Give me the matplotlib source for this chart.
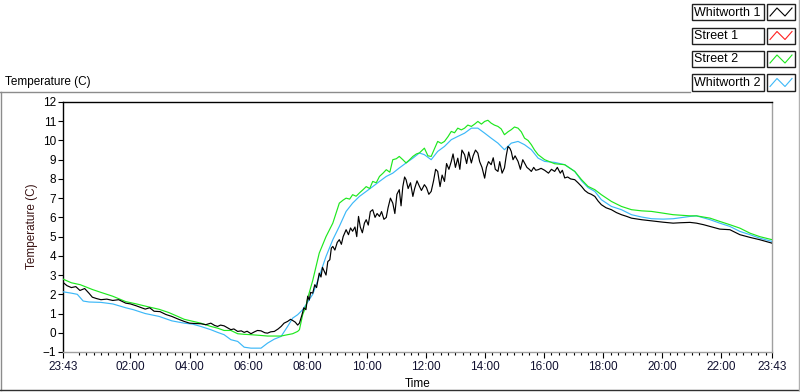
import numpy as np
import matplotlib
matplotlib.use("Agg")
import matplotlib.pyplot as plt
from matplotlib.lines import Line2D
from matplotlib.patches import Rectangle
from matplotlib.ticker import FixedLocator, FixedFormatter


# time is in hours after midnight, the log runs 23:43 -> 23:43
t_start = -17 / 60.
t_end = 24 - 17 / 60.

series_names = ["Whitworth 1", "Street 1", "Street 2", "Whitworth 2"]
series_colors = ["#000000", "#ff2020", "#1ee81e", "#3cb8f8"]

time_w1 = [-0.283, -0.15, 0.0, 0.15, 0.29, 0.45, 0.6, 0.71, 0.85, 1.0, 1.2, 1.4, 1.6, 1.84, 2.0,
           2.2, 2.5, 2.65, 2.8, 3.0, 3.2, 3.4, 3.6, 3.82, 4.0, 4.2, 4.38, 4.55, 4.72, 4.85, 4.95,
           5.05, 5.17, 5.3, 5.4, 5.5, 5.63, 5.75, 5.85, 5.95, 6.08, 6.2, 6.3, 6.42, 6.55, 6.64,
           6.75, 6.87, 7.0, 7.1, 7.2, 7.32, 7.42, 7.49, 7.58, 7.66, 7.72, 7.8, 7.87, 7.94, 8.0,
           8.05, 8.1, 8.17, 8.24, 8.3, 8.39, 8.45, 8.5, 8.56, 8.62, 8.68, 8.75, 8.8, 8.85, 8.92,
           9.0, 9.07, 9.14, 9.2, 9.3, 9.38, 9.45, 9.52, 9.6, 9.66, 9.72, 9.78, 9.85, 9.92, 9.98,
           10.05, 10.12, 10.2, 10.28, 10.35, 10.43, 10.5, 10.58, 10.66, 10.72, 10.8, 10.88, 10.95,
           11.02, 11.1, 11.16, 11.22, 11.28, 11.33, 11.4, 11.48, 11.56, 11.62, 11.7, 11.78, 11.85,
           11.95, 12.02, 12.1, 12.18, 12.26, 12.33, 12.4, 12.48, 12.55, 12.63, 12.7, 12.78, 12.86,
           12.92, 13.0, 13.08, 13.15, 13.22, 13.31, 13.38, 13.45, 13.54, 13.6, 13.68, 13.76, 13.82,
           13.9, 13.99, 14.05, 14.12, 14.21, 14.28, 14.35, 14.44, 14.5, 14.58, 14.66, 14.72, 14.78,
           14.84, 14.89, 14.95, 15.02, 15.12, 15.2, 15.28, 15.34, 15.42, 15.5, 15.57, 15.65, 15.72,
           15.8, 15.9, 16.02, 16.15, 16.25, 16.36, 16.45, 16.55, 16.62, 16.7, 16.8, 16.9, 17.04,
           17.15, 17.27, 17.38, 17.49, 17.6, 17.72, 17.83, 17.94, 18.1, 18.28, 18.45, 18.62, 18.8,
           18.96, 19.3, 19.64, 20.03, 20.37, 20.6, 20.94, 21.16, 21.4, 21.62, 21.95, 22.29, 22.63,
           22.97, 23.3, 23.717]
temp_w1 = [2.62, 2.45, 2.35, 2.4, 2.2, 2.3, 2.05, 1.85, 1.78, 1.72, 1.75, 1.68, 1.72, 1.54, 1.5,
           1.4, 1.23, 1.3, 1.12, 1.1, 0.95, 0.85, 0.72, 0.59, 0.5, 0.48, 0.47, 0.42, 0.5, 0.38, 0.33,
           0.4, 0.36, 0.25, 0.16, 0.2, 0.07, 0.1, 0.02, 0.08, -0.05, 0.05, 0.12, 0.1, 0.0, -0.02,
           0.05, 0.07, 0.2, 0.33, 0.5, 0.59, 0.7, 0.64, 0.55, 0.4, 0.5, 0.9, 1.3, 1.2, 1.9,
           1.7, 2.1, 2.06, 2.5, 2.35, 3.1, 2.9, 3.4, 3.2, 3.0, 3.7, 3.8, 4.4, 4.49, 4.3,
           4.7, 4.84, 4.6, 5.0, 5.36, 5.1, 5.45, 5.28, 5.5, 5.0, 6.05, 5.5, 5.2, 5.7, 5.88,
           5.6, 6.3, 6.4, 6.0, 6.2, 6.05, 6.3, 5.9, 6.0, 6.5, 7.0, 6.74, 6.2,
           7.2, 7.44, 6.6, 7.6, 8.1, 7.96, 7.5, 7.8, 7.09, 7.5, 7.9, 7.62, 7.4,
           7.7, 7.55, 7.2, 7.35, 7.9, 8.5, 8.39, 7.6, 8.2, 7.87, 8.8, 8.5, 8.91,
           9.3, 8.6, 9.08, 8.5, 9.5, 9.26, 8.8, 9.4, 8.83, 9.2, 9.5, 9.34, 8.9,
           8.6, 8.04, 8.6, 8.9, 8.74, 9.1, 8.5, 8.39, 8.9, 8.3, 8.57, 9.2, 9.69,
           9.6, 9.43, 9.0, 9.2, 8.91, 8.5, 9.0, 8.83, 8.6, 8.5, 8.39, 8.6, 8.45,
           8.48, 8.55, 8.45, 8.3, 8.5, 8.39, 8.6, 8.3, 8.45, 8.05, 8.1, 8.0, 7.96,
           7.8, 7.61, 7.4, 7.27, 7.2, 7.09, 6.85, 6.66, 6.5, 6.4, 6.25, 6.14, 6.05,
           5.96, 5.88, 5.82, 5.75, 5.7, 5.72, 5.74, 5.7, 5.62, 5.53, 5.39, 5.36, 5.1,
           4.96, 4.84, 4.66]

# Street 1 logged nothing on this day
time_s1 = []
temp_s1 = []

time_s2 = [-0.283, 0.0, 0.3, 0.71, 1.0, 1.4, 1.84, 2.2, 2.6, 2.97, 3.3, 3.6, 3.82, 4.1, 4.38,
           4.72, 4.95, 5.17, 5.4, 5.63, 5.85, 6.08, 6.42, 6.64, 7.1, 7.32, 7.49, 7.66, 7.72, 7.83,
           7.94, 8.0, 8.17, 8.39, 8.62, 8.85, 9.07, 9.2, 9.3, 9.42, 9.52, 9.64, 9.75, 9.88, 9.98,
           10.1, 10.2, 10.32, 10.43, 10.55, 10.66, 10.78, 10.88, 11.0, 11.1, 11.22, 11.33, 11.45,
           11.56, 11.68, 11.78, 11.95, 12.07, 12.18, 12.3, 12.4, 12.52, 12.63, 12.75, 12.86, 12.97,
           13.08, 13.2, 13.31, 13.42, 13.54, 13.65, 13.76, 13.88, 13.99, 14.1, 14.21, 14.32, 14.44,
           14.55, 14.66, 14.78, 14.89, 15.0, 15.12, 15.23, 15.34, 15.46, 15.57, 15.68, 15.8, 16.02,
           16.36, 16.7, 17.04, 17.27, 17.49, 17.72, 17.94, 18.28, 18.62, 18.96, 19.3, 19.64, 20.03,
           20.37, 20.94, 21.16, 21.62, 21.95, 22.29, 22.63, 22.97, 23.3, 23.717]
temp_s2 = [2.79, 2.6, 2.5, 2.25, 2.1, 1.9, 1.62, 1.5, 1.35, 1.22, 1.05, 0.85, 0.7, 0.6, 0.5,
           0.33, 0.24, 0.12, 0.12, -0.05, -0.08, -0.1, -0.14, -0.17, -0.17, -0.1, -0.05, 0.07, 0.16, 0.94,
           1.37, 1.8, 2.72, 4.14, 5.0, 5.7, 6.74, 6.9, 7.0, 6.95, 7.18, 7.1, 7.27, 7.45, 7.6,
           7.5, 7.87, 7.8, 8.13, 8.3, 8.48, 8.35, 9.0, 9.05, 9.17, 9.0, 8.83, 9.0,
           9.17, 9.3, 9.35, 9.6, 9.2, 9.17, 9.6, 9.95, 9.85, 9.95, 10.2, 10.47, 10.4,
           10.64, 10.55, 10.64, 10.8, 10.73, 10.85, 10.99, 10.85, 10.99, 11.05, 10.9, 10.8, 10.73,
           10.6, 10.3, 10.45, 10.56, 10.7, 10.64, 10.45, 10.12, 10.0, 9.78, 9.5, 9.26, 9.0,
           8.79, 8.74, 8.39, 7.96, 7.61, 7.44, 7.18, 6.83, 6.57, 6.4, 6.34, 6.31, 6.22,
           6.14, 6.08, 6.08, 5.96, 5.79, 5.62, 5.44, 5.18, 5.0, 4.84]

time_w2 = [-0.283, 0.0, 0.2, 0.4, 0.6, 1.0, 1.4, 1.84, 2.1, 2.5, 2.97, 3.4, 3.82, 4.1, 4.38,
           4.72, 4.95, 5.17, 5.4, 5.63, 5.85, 6.08, 6.42, 6.64, 6.87, 7.1, 7.32, 7.49, 7.66, 7.83,
           8.0, 8.17, 8.39, 8.62, 8.85, 9.07, 9.3, 9.52, 9.75, 9.98, 10.2, 10.43, 10.66, 10.88,
           11.1, 11.33, 11.56, 11.78, 11.95, 12.18, 12.4, 12.63, 12.86, 13.08, 13.31, 13.54, 13.76,
           13.99, 14.21, 14.44, 14.66, 14.89, 15.12, 15.34, 15.57, 15.8, 16.02, 16.36, 16.7, 17.04,
           17.27, 17.49, 17.72, 17.94, 18.28, 18.62, 18.96, 19.3, 19.64, 20.03, 20.37, 20.94, 21.16,
           21.62, 21.95, 22.29, 22.63, 22.97, 23.3, 23.717]
temp_w2 = [2.13, 2.06, 2.0, 1.65, 1.6, 1.58, 1.5, 1.3, 1.2, 1.0, 0.85, 0.62, 0.5, 0.45, 0.33,
           0.16, 0.02, -0.1, -0.36, -0.45, -0.75, -0.8, -0.8, -0.54, -0.33, -0.19, 0.33, 0.76, 0.94, 1.2,
           1.6, 2.0, 2.93, 3.97, 4.84, 5.53, 6.31, 6.74, 7.09, 7.35, 7.6, 7.87, 8.13, 8.3,
           8.57, 8.83, 9.08, 9.35, 9.26, 9.0, 9.43, 9.69, 10.04, 10.21, 10.38, 10.64, 10.64,
           10.38, 10.12, 9.86, 9.52, 9.86, 9.95, 9.78, 9.52, 9.08, 8.91, 8.86, 8.74, 8.39,
           7.9, 7.55, 7.35, 6.92, 6.57, 6.4, 6.14, 6.02, 5.93, 5.91, 5.93, 6.05, 6.08,
           5.88, 5.7, 5.53, 5.27, 5.1, 4.92, 4.75]

label_hours = [2, 4, 6, 8, 10, 12, 14, 16, 18, 20, 22]


W, H = 800, 392
plt.rcParams['font.family'] = ['Liberation Sans', 'DejaVu Sans']
plt.rcParams['font.size'] = 8.5

fig = plt.figure(figsize=(W / 100, H / 100), dpi=100)

def fx(px):
    return px / W

def fy(py):
    return 1 - py / H

# plot area
ax = fig.add_axes([fx(63), fy(352), fx(772) - fx(63), fy(102) - fy(352)])

series = [(time_w1, temp_w1), (time_s1, temp_s1), (time_s2, temp_s2), (time_w2, temp_w2)]
# draw in the same stacking as the original: black on top
for k in [1, 3, 2, 0]:
    t, v = series[k]
    ax.plot(t, v, color=series_colors[k], lw=0.85, zorder=3 + (k == 0))

ax.set_xlim(t_start, t_end)
ax.set_ylim(-1, 12)

# frame: dark top/left, grey right/bottom
for side in ['top', 'left']:
    ax.spines[side].set_color('black')
    ax.spines[side].set_linewidth(1.0)
for side in ['right', 'bottom']:
    ax.spines[side].set_color('#a0a0a0')
    ax.spines[side].set_linewidth(1.0)

ax.set_yticks(np.arange(-1, 13))
ax.tick_params(axis='y', direction='out', length=3.5, width=0.8, pad=1.5, colors='black')

major_x = [t_start] + label_hours + [t_end]
major_lab = ['23:43'] + ['%02d:00' % h for h in label_hours] + ['23:43']
ax.xaxis.set_major_locator(FixedLocator(major_x))
ax.xaxis.set_major_formatter(FixedFormatter(major_lab))
minor_x = [q / 4 for q in range(0, 96) if q % 8 != 0]
ax.xaxis.set_minor_locator(FixedLocator(minor_x))
ax.tick_params(axis='x', which='major', direction='out', length=4, width=0.8, pad=2.5,
               colors='black', labelcolor='#101030')
ax.tick_params(axis='x', which='minor', direction='out', length=2.5, width=0.8, colors='black')

fig.text(fx(418), fy(384), 'Time', ha='center', va='center')
fig.text(fx(32), fy(226), 'Temperature (C)', ha='center', va='center', rotation=90,
         color='#3a1414')
fig.text(fx(5), fy(82), 'Temperature (C)', ha='left', va='center')

# panel outline
grey = '#8c8c8c'
fig.add_artist(Line2D([fx(0), fx(690)], [fy(92), fy(92)], color=grey, lw=1.0))
fig.add_artist(Line2D([fx(0.5), fx(0.5)], [fy(92), fy(390)], color=grey, lw=1.0))
fig.add_artist(Line2D([fx(0), fx(799)], [fy(390), fy(390)], color='#303030', lw=1.0))
fig.add_artist(Line2D([fx(798.5), fx(798.5)], [fy(0), fy(390)], color='#b0b0b0', lw=1.0))

# legend boxes top right
row_top = [4, 27.5, 51, 74.5]
row_h = 16
for name, col, y0 in zip(series_names, series_colors, row_top):
    fig.add_artist(Rectangle((fx(692), fy(y0 + row_h)), fx(764) - fx(692), fy(y0) - fy(y0 + row_h),
                             fill=False, edgecolor='#202020', lw=1.0))
    fig.text(fx(694), fy(y0 + row_h / 2 + 0.5), name, ha='left', va='center', fontsize=9)
    fig.add_artist(Rectangle((fx(767), fy(y0 + row_h)), fx(795) - fx(767), fy(y0) - fy(y0 + row_h),
                             fill=False, edgecolor='#202020', lw=1.0))
    zx = [770, 777, 785, 792]
    zy = [y0 + 12, y0 + 4, y0 + 12, y0 + 4]
    fig.add_artist(Line2D([fx(p) for p in zx], [fy(p) for p in zy], color=col, lw=0.8))

fig.savefig('out.png', dpi=100)
